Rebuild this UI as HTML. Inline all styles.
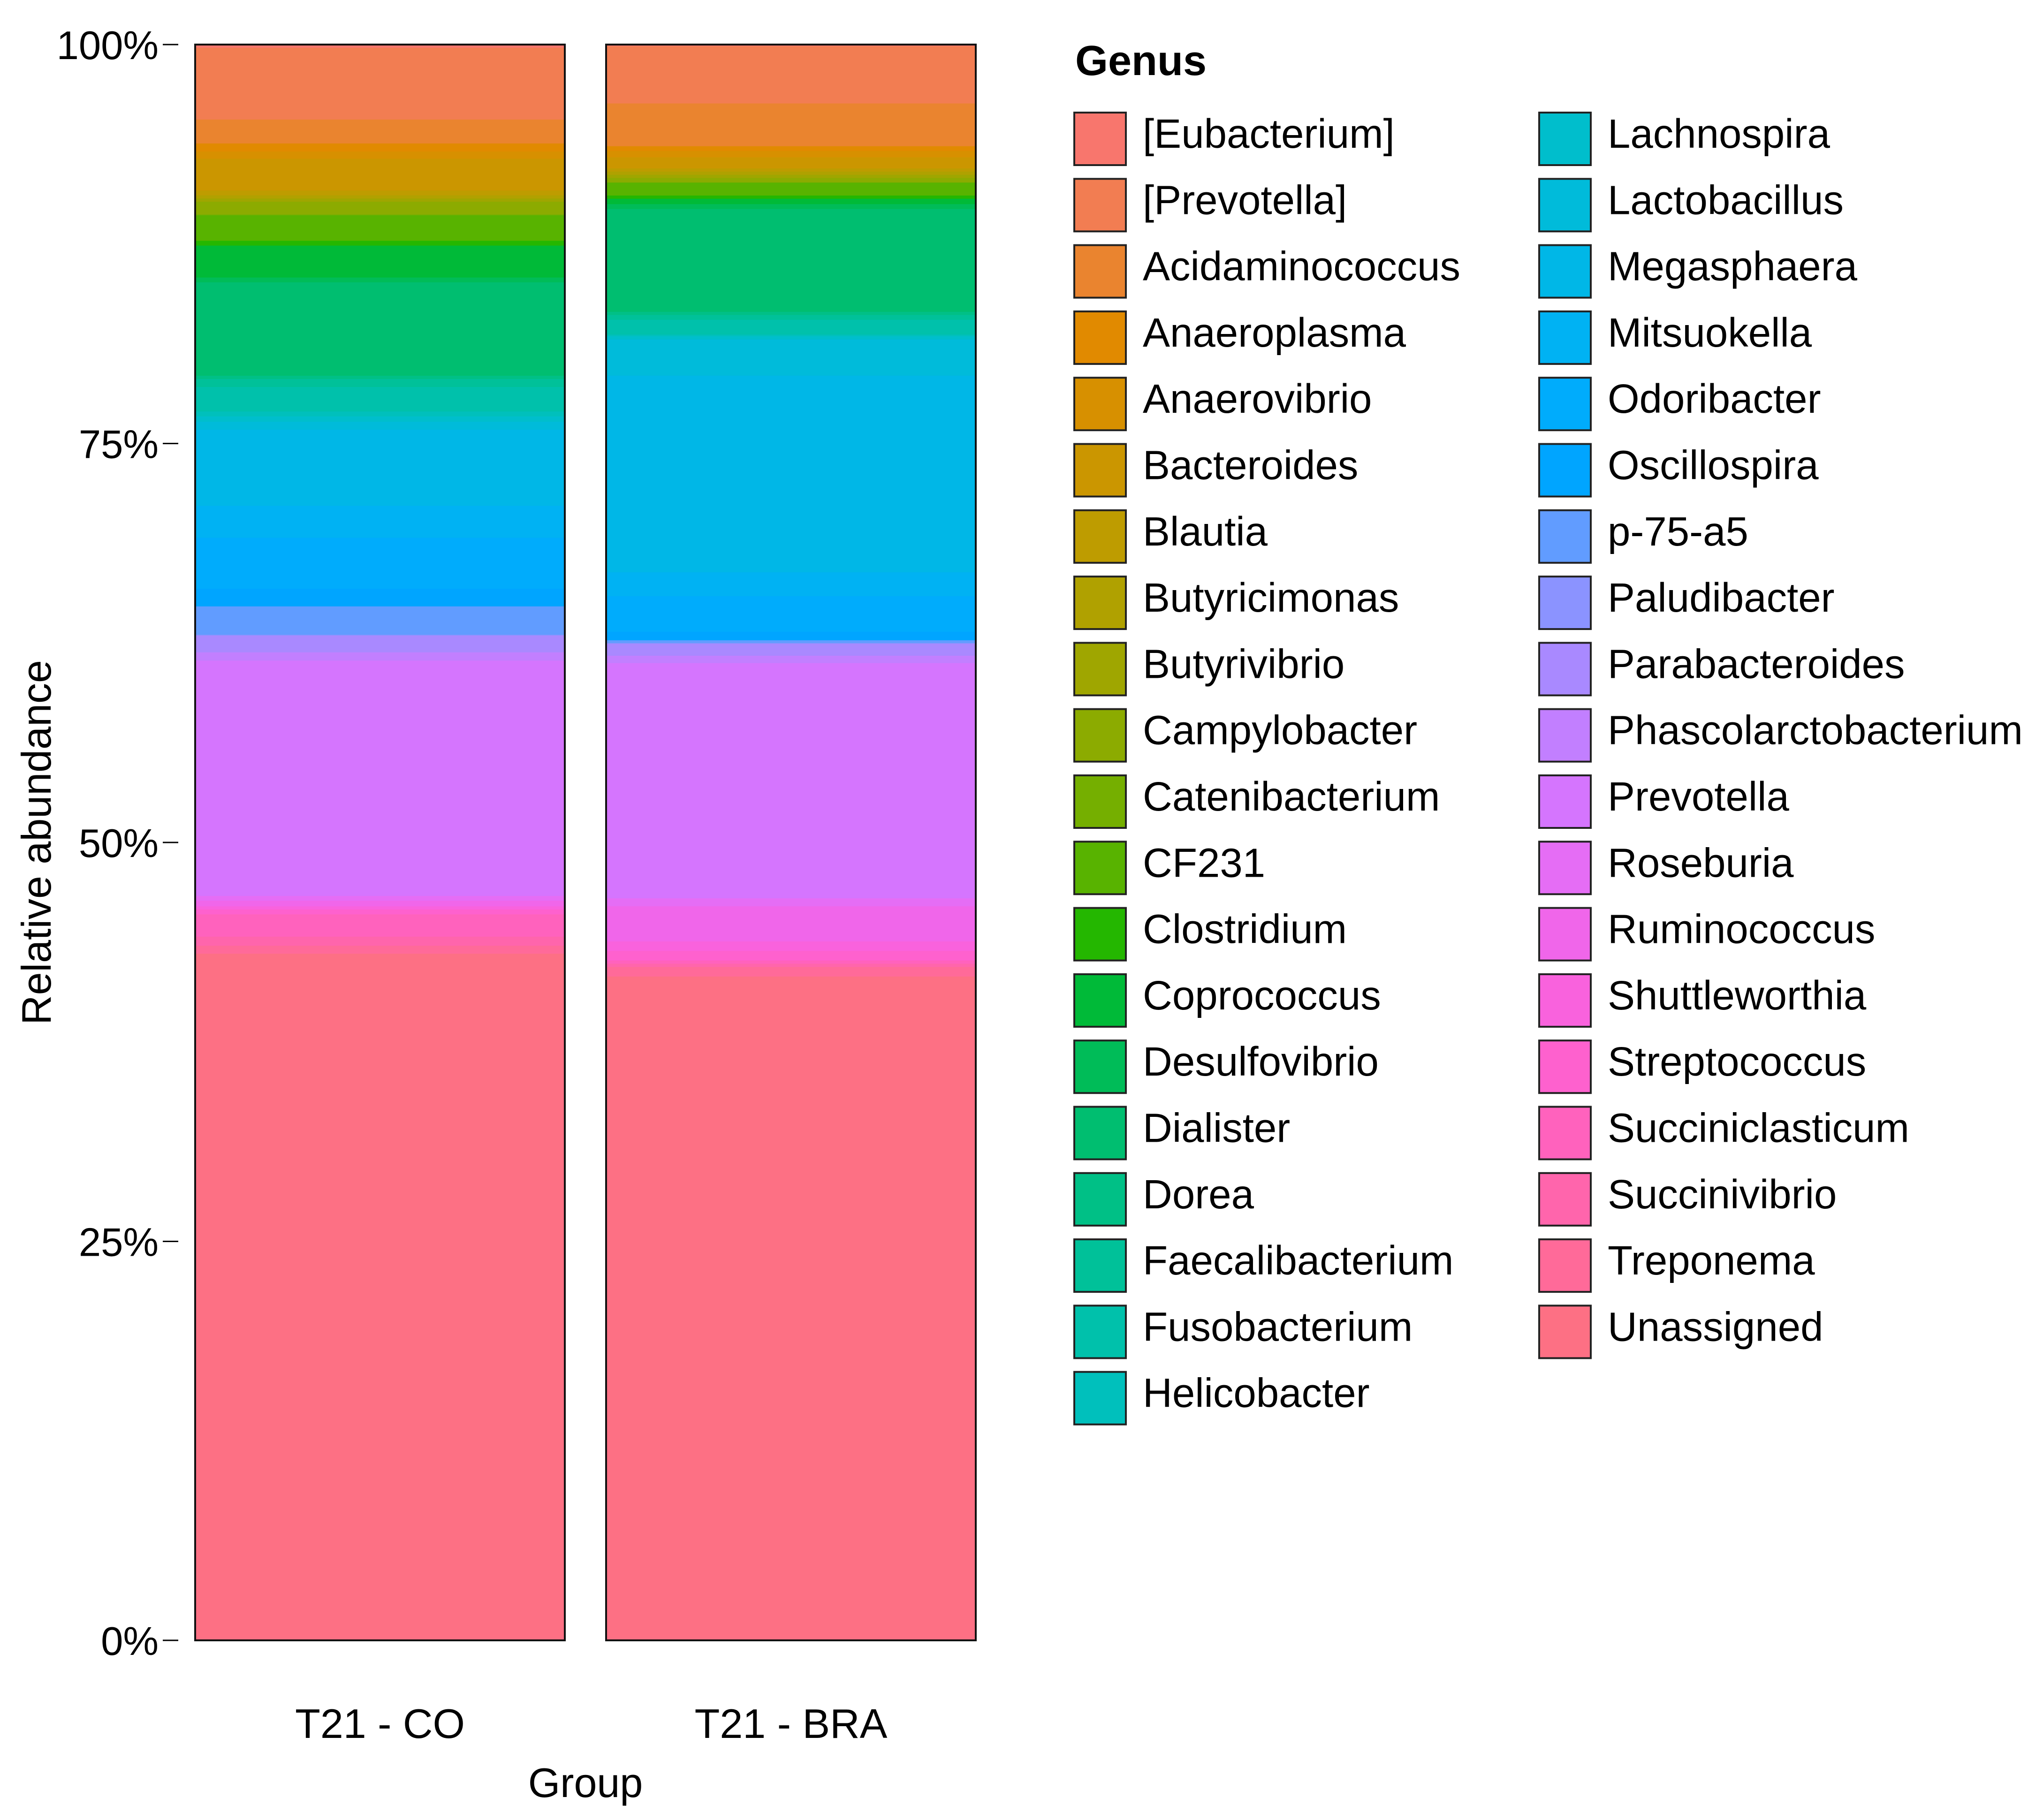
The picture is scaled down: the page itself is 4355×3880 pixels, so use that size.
<!DOCTYPE html>
<html><head><meta charset="utf-8">
<style>
html,body{margin:0;padding:0;background:#fff;}
svg{display:block;font-family:"Liberation Sans",Arial,sans-serif;}
</style></head>
<body>
<svg id="chart" width="4355" height="3880" viewBox="0 0 4355 3880" xmlns="http://www.w3.org/2000/svg">
<g id="bars"></g>
<g id="axes"></g>
<g id="legend"></g>
</svg>
<script>
const genera = ["[Eubacterium]","[Prevotella]","Acidaminococcus","Anaeroplasma","Anaerovibrio","Bacteroides","Blautia","Butyricimonas","Butyrivibrio","Campylobacter","Catenibacterium","CF231","Clostridium","Coprococcus","Desulfovibrio","Dialister","Dorea","Faecalibacterium","Fusobacterium","Helicobacter","Lachnospira","Lactobacillus","Megasphaera","Mitsuokella","Odoribacter","Oscillospira","p-75-a5","Paludibacter","Parabacteroides","Phascolarctobacterium","Prevotella","Roseburia","Ruminococcus","Shuttleworthia","Streptococcus","Succiniclasticum","Succinivibrio","Treponema","Unassigned"];
const groups = ["T21 - CO","T21 - BRA"];
const valuesCO = [0.2,4.5,1.5,0.5,0.45,2.0,0.3,0.2,0.2,0.8,0.05,1.6,0.3,2.0,0.3,5.86,0.2,0.5,1.54,0.3,0.34,0.5,4.77,2.0,3.2,1.1,1.78,0.05,1.05,0.52,14.75,0.3,0.35,0.2,0.3,1.4,0.57,0.5,43.03];
const valuesBRA = [0.1,3.59,2.68,0.3,0.4,0.69,0.2,0.2,0.2,0.27,0.03,0.8,0.2,0.34,0.3,6.45,0.2,0.3,0.93,0.1,0.2,2.27,12.32,1.5,2.23,0.53,0.17,0.05,0.75,0.46,14.74,0.5,2.2,0.6,0.6,0.2,0.2,0.6,41.6];
const yTicks = [0,25,50,75,100];
const yTickLabels = ["0%","25%","50%","75%","100%"];

const NS="http://www.w3.org/2000/svg";
function mk(tag,attrs,parent){const e=document.createElementNS(NS,tag);for(const k in attrs)e.setAttribute(k,attrs[k]);parent.appendChild(e);return e;}

function hcl(h,c,l){
  const hr=h*Math.PI/180, U=c*Math.cos(hr), V=c*Math.sin(hr);
  const Xn=95.047,Yn=100,Zn=108.883;
  const un=4*Xn/(Xn+15*Yn+3*Zn), vn=9*Yn/(Xn+15*Yn+3*Zn);
  const Y = l>8 ? Yn*Math.pow((l+16)/116,3) : Yn*l/903.3;
  const u=U/(13*l)+un, v=V/(13*l)+vn;
  const X=9*Y*u/(4*v), Z=-X/3-5*Y+3*Y/v;
  const x=X/100,y=Y/100,z=Z/100;
  let r=3.240479*x-1.537150*y-0.498535*z, g=-0.969256*x+1.875992*y+0.041556*z, b=0.055648*x-0.204043*y+1.057311*z;
  const gam=t=>{t=t>0.0031308?1.055*Math.pow(t,1/2.4)-0.055:12.92*t;return Math.round(Math.max(0,Math.min(1,t))*255);};
  return "rgb("+gam(r)+","+gam(g)+","+gam(b)+")";
}
const n=genera.length;
const colors=genera.map((g,i)=>hcl(15+360*i/n,100,65));

const yTop=95, yBot=3497;
const yScale=p=>yBot-(yBot-yTop)*p/100;
const barX=[416,1292], barW=788;
const xCenter=i=>barX[i]+barW/2;

const barsG=document.getElementById('bars');
[valuesCO,valuesBRA].forEach((vals,gi)=>{
  const tot=vals.reduce((a,b)=>a+b,0);
  let cum=100;
  const bg=mk('g',{},barsG);
  
  
  vals.forEach((v,i)=>{
    const p=v/tot*100;
    const y0=yScale(cum), y1=yScale(cum-p);
    const r=mk('rect',{x:barX[gi],y:y0,width:barW,height:Math.max(0,y1-y0)+0.6,fill:colors[i]},bg);
    
    
    cum-=p;
  });
  const o=mk('rect',{x:barX[gi],y:yTop,width:barW,height:yBot-yTop,fill:'none',stroke:'#111','stroke-width':4},bg);
  
  
});

const ax=document.getElementById('axes');
yTicks.forEach((t,i)=>{
  const y=yScale(t);
  const tl=mk('line',{x1:347,x2:380,y1:y,y2:y,stroke:'#000','stroke-width':3},ax);
  
  
  const tx=mk('text',{x:338,y:y+31,'text-anchor':'end','font-size':85,fill:'#000'},ax);
  tx.textContent=yTickLabels[i];
  
  
});
groups.forEach((g,i)=>{
  const t=mk('text',{x:xCenter(i),y:3705,'text-anchor':'middle','font-size':88,fill:'#000'},ax);
  t.textContent=g;
  
  
});
const xt=mk('text',{x:1248,y:3831,'text-anchor':'middle','font-size':88,fill:'#000'},ax);
xt.textContent='Group';


const yt=mk('text',{x:0,y:0,'text-anchor':'middle','font-size':88,fill:'#000',transform:'translate(108,1796) rotate(-90)'},ax);
yt.textContent='Relative abundance';



const lg=document.getElementById('legend');
const lt=mk('text',{x:2292,y:160,'font-size':90,'font-weight':'bold',fill:'#000'},lg);
lt.textContent='Genus';


genera.forEach((g,i)=>{
  const col=i<20?0:1, row=i<20?i:i-20;
  const kx=col===0?2290:3281, ky=240+row*141.3;
  const ge=mk('g',{},lg);
  
  
  const k=mk('rect',{x:kx,y:ky,width:110,height:112,fill:colors[i],stroke:'#222','stroke-width':4},ge);
  
  
  const t=mk('text',{x:kx+146,y:ky+75,'font-size':87,fill:'#000'},ge);
  t.textContent=g;
  
  
});
</script>
</body></html>
